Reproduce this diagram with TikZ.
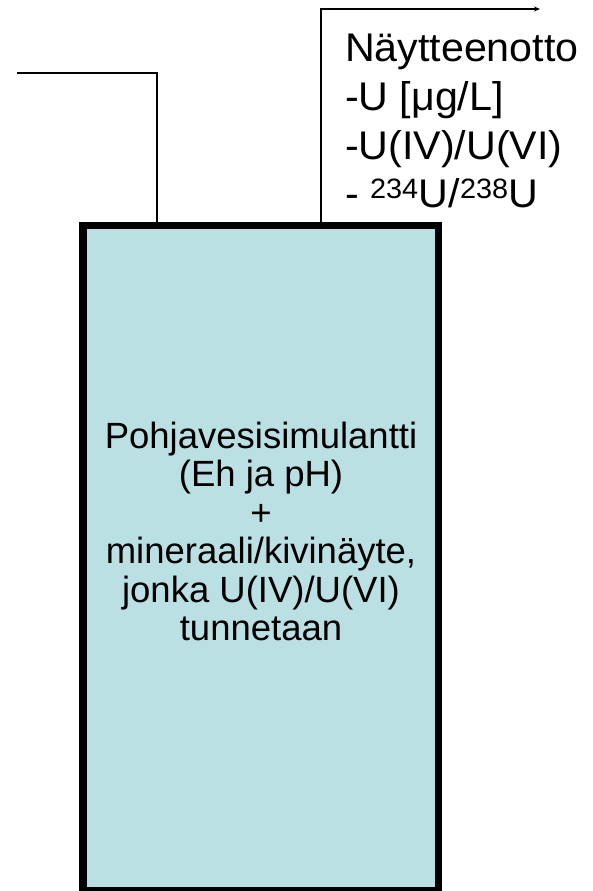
\documentclass[tikz,border=0pt]{standalone}
\usepackage{fontspec}
\setmainfont{Liberation Sans}
\usetikzlibrary{arrows.meta}
\definecolor{vesselfill}{HTML}{BBE0E3}
\tikzset{
  pipe/.style={draw=black, line width=1.4pt},
  vesselbox/.style={draw=black, line width=7.5pt, fill=vesselfill,
    rectangle, inner sep=0pt, minimum width=355.5pt, minimum height=665pt},
  label/.style={inner sep=0pt, outer sep=0pt, text=black}
}
\begin{document}
\begin{tikzpicture}[x=1pt, y=-1pt]
  \useasboundingbox (0,0) rectangle (593,891);
  \clip (0,0) rectangle (593,891);

  % reaction vessel
  \node[vesselbox] (vessel) at (260.75,558) {};
  \node[label] (content) at (261,537) {\fontsize{36.5}{38.5}\selectfont
    \begin{tabular}{@{}c@{}}
      Pohjavesisimulantti\\
      (Eh ja pH)\\
      +\\
      mineraali/kivinäyte,\\
      jonka U(IV)/U(VI)\\
      tunnetaan
    \end{tabular}};

  % sampling list
  \node[label, anchor=base west] (sampling) at (345,62) {\scalebox{1.03}[1]{\fontsize{40}{48.5}\selectfont
    \begin{tabular}[t]{@{}l@{}}
      Näytteenotto\\
      -U [μg/L]\\
      -U(IV)/U(VI)\\
      - \textsuperscript{234}U/\textsuperscript{238}U
    \end{tabular}}};

  % feed line in and sampling line out
  \coordinate (inlet) at (17,73);
  \coordinate (inx) at (157,0);
  \coordinate (outx) at (321,0);
  \coordinate (outlet) at (540,9);
  \draw[pipe] (inlet) -| (inx |- vessel.north);
  \draw[pipe, -{Stealth[length=6pt, width=5pt]}] (outx |- vessel.north) |- (outlet);
\end{tikzpicture}
\end{document}
